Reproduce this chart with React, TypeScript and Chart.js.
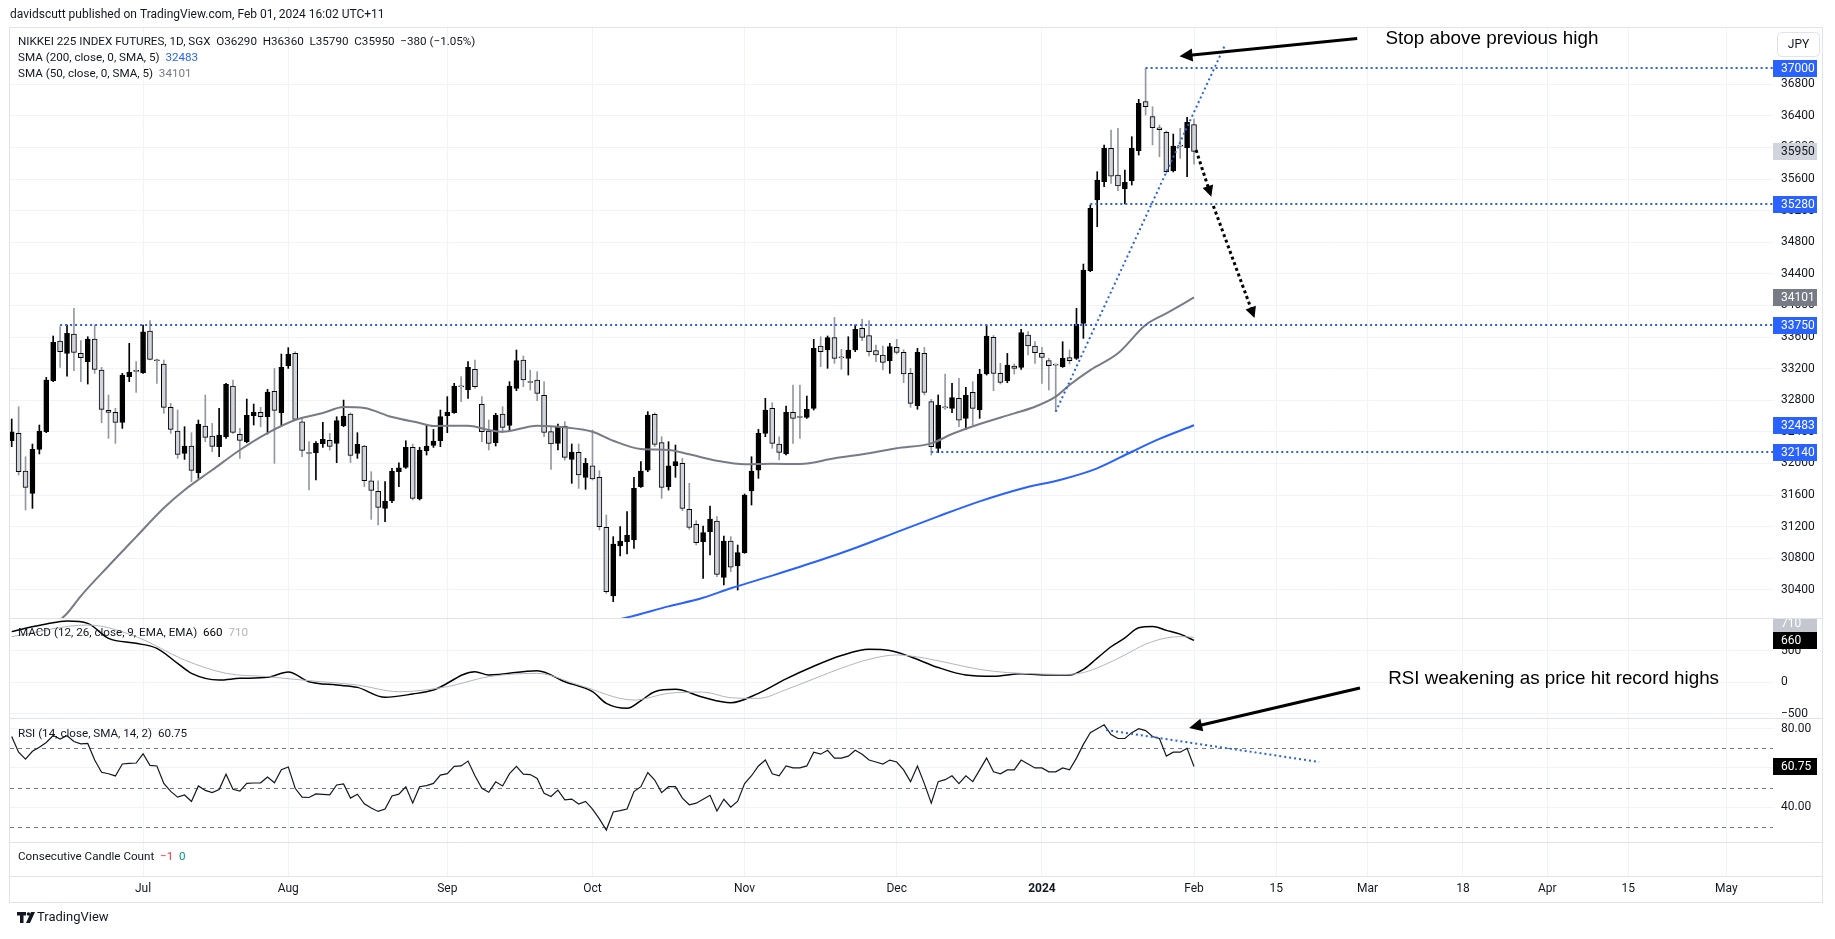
import React, { useEffect, useRef } from "react";
import { Chart, registerables } from "chart.js";
Chart.register(...registerables);

const W = 1835;
const H = 939;
const FONT = "Roboto, 'Liberation Sans', sans-serif";
const ANNO_FONT = "'Liberation Sans', Arial, sans-serif";
const GRID = "#f0f3fa";
const TEXT = "#131722";

// ---------- DATA ----------
const opens = [32288,32380,31904,31621,32178,32401,33047,33549,33393,33638,33393,33288,33575,33182,32672,32646,32520,33098,33170,33148,33676,33305,33258,32710,32410,32127,32220,31882,32473,32347,32212,32338,32980,32368,32275,32604,32646,32591,32912,32642,33237,33393,32528,32130,32136,32250,32292,32254,32477,32625,32127,32220,31781,31646,31431,31528,31895,31950,32203,31549,32161,32229,32288,32604,32642,32975,32929,33191,32748,32410,32263,32626,32482,32950,33309,33030,33056,32862,32402,32254,32474,32052,32140,31824,31971,31824,31191,30321,30955,31009,31030,31705,31916,32621,32263,31705,31971,32001,31418,31229,31009,31136,31271,30558,31018,30701,30870,31651,31916,32381,32697,32246,32119,32646,32585,32583,32697,33486,33436,33592,33341,33330,33436,33710,33617,33427,33372,33301,33469,33406,33140,32731,33393,32782,32191,32708,32697,32824,32571,32900,32676,33132,33596,33140,33047,33233,33216,33626,33486,33393,33301,33248,33225,33339,33330,33773,34440,35335,35567,35989,35651,35474,35579,35959,36580,36390,36250,36191,35706,36020,35997,36290];
const highs = [32562,32718,32085,32245,32486,33089,33613,33731,33752,33963,33554,33604,33752,33216,32866,32697,33140,33520,33288,33752,33807,33320,33309,32760,32676,32465,32389,32549,32866,32507,32697,33013,33056,32444,32815,32752,32710,32937,33203,33385,33465,33414,32583,32275,32275,32520,32380,32591,32802,32640,32389,32230,31895,31781,31769,31937,32009,32287,32245,32203,32486,32431,32676,32845,33014,33098,33288,33309,32845,32550,32634,32718,33035,33436,33360,33182,33161,33035,32465,32499,32528,32246,32246,32064,32423,31908,31347,31073,31199,31389,31824,32022,32655,32640,32338,32275,32233,32064,31748,31275,31208,31461,31326,31081,31073,30967,31613,32085,32431,32824,32769,32338,32727,32993,32993,32853,33571,33604,33613,33849,33444,33604,33752,33824,33807,33499,33486,33520,33571,33440,33204,33457,33469,32811,32866,33132,33014,33077,32963,33035,33191,33752,33620,33267,33393,33260,33697,33668,33541,33469,33330,33260,33541,33436,33963,34524,35271,35693,36031,36221,36242,35714,36136,36609,37000,36516,36284,36210,36170,36242,36381,36360];
const lows = [32212,31853,31410,31431,32119,32389,33035,33216,33106,33174,33035,33005,33140,32515,32317,32254,32444,33035,32900,33140,33309,33013,32634,32380,32064,32051,31769,31811,32275,32148,32085,32317,32380,32064,32262,32486,32465,32372,32001,32465,33203,32549,32085,31663,31790,32203,32169,32009,32465,32009,32064,31705,31292,31220,31262,31503,31705,31937,31537,31537,32106,32203,32212,32389,32634,32782,32824,32950,32275,32170,32220,32389,32414,32921,32971,32929,32794,32338,31925,32170,32043,31748,31684,31672,31790,31157,30355,30250,30828,30853,30925,31697,31895,32212,31558,31663,31824,31402,31165,30967,30545,30841,30566,30461,30630,30397,30862,31473,31811,32338,32191,32043,32106,32254,32317,32570,32676,33225,33204,33267,33191,33119,33415,33554,33360,33288,33183,33140,33385,33022,32710,32685,32866,32106,32136,32685,32642,32465,32431,32486,32571,33119,32921,33005,33022,33132,33191,33372,33267,33014,32929,32655,33216,33259,33317,33583,34427,34997,35503,35546,35453,35284,35524,35904,36411,36031,35883,35672,35690,35862,35630,35790];
const closes = [32401,31895,31697,32178,32410,33056,33532,33414,33646,33406,33338,33575,33191,32684,32646,32520,33119,33153,33165,33667,33317,33300,32710,32431,32115,32220,31912,32494,32330,32216,32359,33001,32393,32292,32608,32646,32591,32904,32672,33216,33381,32558,32165,32125,32254,32304,32216,32541,32600,32102,32241,31781,31659,31443,31524,31904,31945,32203,31558,32170,32220,32284,32592,32646,32980,32970,33216,32971,32402,32254,32609,32457,32980,33301,33056,33024,32887,32393,32246,32465,32077,32144,31853,32001,31803,31199,30376,30980,31018,31094,31684,31904,32613,32242,31697,31971,32022,31431,31191,30997,31123,31296,30596,31018,30685,30870,31600,31904,32381,32676,32254,32140,32646,32570,32581,32685,33457,33415,33592,33330,33337,33436,33697,33596,33415,33372,33279,33478,33406,33132,32760,33406,32900,32212,32739,32704,32832,32549,32866,32697,33132,33613,33140,33026,33246,33204,33655,33486,33402,33343,33237,33244,33330,33301,33760,34449,35229,35588,35989,35638,35512,35558,35989,36558,36516,36250,36225,35693,36018,36016,36318,35950];

// SMA values read at bar positions [bar, value]
const sma50 = [[5,29880],[8,30100],[10,30321],[14,30701],[18,31070],[22,31435],[25,31663],[29,31916],[33,32170],[37,32385],[41,32550],[45,32638],[48,32714],[51,32701],[55,32587],[59,32512],[61,32474],[66,32477],[69,32423],[71,32401],[76,32477],[80,32457],[84,32401],[87,32287],[91,32182],[95,32170],[98,32115],[102,32034],[106,31989],[110,31995],[114,31992],[119,32064],[124,32128],[128,32191],[133,32254],[136,32372],[140,32499],[145,32634],[148,32718],[151,32845],[153,32993],[156,33182],[160,33394],[164,33752],[167,33900],[171,34101]];
const sma200 = [[87,30010],[89,30050],[95,30190],[100,30300],[104,30419],[110,30580],[117,30777],[122,30930],[128,31130],[134,31330],[140,31520],[146,31680],[152,31800],[157,31938],[162,32148],[166,32310],[171,32483]];

const macdLine = [[0,800],[2,852],[5,920],[8,968],[11,931],[14,693],[18,614],[21,534],[24,296],[26,138],[30,32],[33,58],[37,74],[40,159],[43,5],[47,-48],[50,-85],[54,-243],[58,-190],[61,-127],[67,164],[69,111],[76,180],[80,5],[84,-154],[86,-339],[89,-418],[91,-296],[93,-154],[96,-116],[100,-243],[104,-330],[108,-180],[112,50],[116,250],[120,420],[124,520],[127,500],[130,400],[134,230],[138,110],[142,90],[146,130],[150,110],[153,110],[155,200],[157,380],[159,560],[161,700],[163,860],[165,880],[167,820],[169,760],[171,660]];
const signalLine = [[0,720],[11,905],[18,720],[25,349],[31,138],[37,85],[43,21],[50,-48],[56,-154],[63,-74],[69,85],[76,138],[82,-48],[90,-286],[95,-180],[100,-160],[104,-250],[108,-260],[112,-120],[116,50],[120,220],[124,360],[128,430],[132,380],[136,290],[140,200],[144,150],[148,130],[152,120],[155,150],[158,270],[161,430],[164,600],[167,700],[169,720],[171,710]];

const rsi = [76,68,64.5,68.5,70.5,73,76.5,74.7,76.4,73.5,72.3,72.5,64,57.8,57,55.9,62,62.3,62.5,67.2,61.3,61,52.1,48,45.1,46.2,42.9,50.8,48.5,47.4,49,56.8,49.1,48.2,52.1,52.3,52.4,55.4,52.4,59.1,60.5,49.6,45.1,44.9,46.7,46.5,46.2,51.3,51.8,44.6,46.6,41.7,39.5,37.8,39,45.7,46.6,50.4,42.1,50.4,51,52.1,56.3,57.1,60.8,61,63.5,56,49.6,47.6,52.9,50.8,57.1,60.8,56.8,56.6,54.6,47.1,45.4,48.7,43.7,44.1,41.6,42.9,39,34,28.3,37.5,38.2,39,47.9,50.4,57.6,53.8,47.4,50.4,50.4,44.6,41.2,42,44,46,38,44,40,43,52,56,61,64,57,56,61,60,60,61,68,67,69,65,65,66,69,67,64,63,62,64,63,59,53,61,52,42,53,54,56,52,56,53,59,65,58,57,59,59,64,62,60,60,58,58,60,59,65,72,78,80,82,77,75,75,78,80,79,76,75,66,68,68,70,60.75];

const priceTicks = [30400,30800,31200,31600,32000,32400,32800,33200,33600,34000,34400,34800,35200,35600,36000,36400,36800];
const macdTicks = [-500, 0, 500];
const rsiTicks = [40, 60, 80];
const rsiBands = [70, 50, 30];
const gridBars = [19,40,63,84,106,128,149,171,182.9,196.1,209.9,222.1,233.8,248];
const timeLabels = ["Jul","Aug","Sep","Oct","Nov","Dec","2024","Feb","15","Mar","18","Apr","15","May"];
const levelPrices = [37000, 35280, 33750, 32140];
const levelStartBars = [164, 156, 7, 133];

// annotation anchors in data units [bar, value]
const trendLine = [[151, 32655], [175.5, 37300]];
const downArrow1 = [[171.3, 35968], [173.5, 35376]];
const downArrow2 = [[173.8, 35259], [179.75, 33841]];
const stopArrow = [[194.6, 37378], [168.9, 37155]];
const stopText = [198.7, 37378];
const rsiTrend = [[158.3, 79.3], [189.1, 63.0]];
const rsiArrowFrom = [195, -95]; // MACD pane units
const rsiArrowTo = [170.3, 80.4]; // RSI pane units
const rsiText = [199.1, 48]; // MACD pane units

const X_MIN = -0.246;
const X_MAX = 254.74;
const PANE = {
  price: { top: 27, h: 591, min: 30043, max: 37525 },
  macd: { top: 618, h: 100, min: -571, max: 1016 },
  rsi: { top: 718, h: 124, min: 22.2, max: 85.46 },
  bottom: { top: 842, h: 60, axis: 26 },
};

// ---------- helpers ----------
function fitSize(ctx: CanvasRenderingContext2D, text: string, width: number, family: string, weight = "normal") {
  ctx.font = `${weight} 100px ${family}`;
  const w = ctx.measureText(text).width;
  return (100 * width) / w;
}

function drawArrow(ctx: CanvasRenderingContext2D, x1: number, y1: number, x2: number, y2: number, width: number, dash: number[], head: number, color = "#000") {
  ctx.save();
  const ang = Math.atan2(y2 - y1, x2 - x1);
  ctx.strokeStyle = color;
  ctx.lineWidth = width;
  ctx.setLineDash(dash);
  ctx.beginPath();
  ctx.moveTo(x1, y1);
  ctx.lineTo(x2 - Math.cos(ang) * head * 0.8, y2 - Math.sin(ang) * head * 0.8);
  ctx.stroke();
  ctx.setLineDash([]);
  ctx.fillStyle = color;
  const bx = x2 - head * Math.cos(ang);
  const by = y2 - head * Math.sin(ang);
  const hw = head * 0.5;
  ctx.beginPath();
  ctx.moveTo(x2, y2);
  ctx.lineTo(bx + hw * Math.sin(ang), by - hw * Math.cos(ang));
  ctx.lineTo(bx - hw * Math.sin(ang), by + hw * Math.cos(ang));
  ctx.closePath();
  ctx.fill();
  ctx.restore();
}

function drawBadge(ctx: CanvasRenderingContext2D, y: number, text: string, bg: string, fg: string) {
  ctx.save();
  ctx.fillStyle = bg;
  ctx.fillRect(1773, Math.round(y - 8.5), 44, 17);
  ctx.fillStyle = fg;
  ctx.font = `12px ${FONT}`;
  ctx.textBaseline = "middle";
  ctx.textAlign = "left";
  ctx.fillText(text, 1781, y + 0.5);
  ctx.restore();
}

function xScale(showLabels: boolean, axisH: number) {
  return {
    type: "linear",
    min: X_MIN,
    max: X_MAX,
    offset: false,
    position: "bottom",
    afterBuildTicks: (s: any) => {
      s.ticks = gridBars.map((v) => ({ value: v }));
    },
    afterFit: (s: any) => {
      s.height = axisH;
      s.paddingLeft = 0;
      s.paddingRight = 0;
      s.paddingTop = 0;
      s.paddingBottom = 0;
    },
    ticks: {
      display: showLabels,
      autoSkip: false,
      maxRotation: 0,
      padding: 6,
      color: TEXT,
      font: (c: any) => ({ family: FONT, size: 12, weight: timeLabels[c.index] === "2024" ? "bold" : "normal" }),
      callback: (_v: any, i: number) => timeLabels[i],
    },
    grid: { color: GRID, drawTicks: false, lineWidth: 1, offset: false },
    border: { display: showLabels, color: "#e0e3eb" },
  };
}

function yScale(min: number, max: number, ticks: number[], fmt: (v: number) => string, showGrid = true) {
  return {
    type: "linear",
    position: "right",
    min,
    max,
    afterBuildTicks: (s: any) => {
      s.ticks = ticks.map((v) => ({ value: v }));
    },
    afterFit: (s: any) => {
      s.width = 50;
      s.paddingTop = 0;
      s.paddingBottom = 0;
      s.paddingLeft = 0;
      s.paddingRight = 0;
    },
    ticks: { padding: 8, color: TEXT, font: { family: FONT, size: 12 }, callback: (v: any) => fmt(Number(v)) },
    grid: { color: GRID, drawTicks: false, display: showGrid },
    border: { display: false },
  };
}

function baseOpts(x: any, y: any) {
  return {
    responsive: false,
    animation: false,
    devicePixelRatio: 1,
    layout: { padding: { left: 10, right: 12, top: 0, bottom: 0 }, autoPadding: false },
    scales: { x, y },
    plugins: { legend: { display: false }, tooltip: { enabled: false }, title: { display: false } },
    events: [],
  };
}

export default function App() {
  const priceRef = useRef<HTMLCanvasElement>(null);
  const macdRef = useRef<HTMLCanvasElement>(null);
  const rsiRef = useRef<HTMLCanvasElement>(null);
  const botRef = useRef<HTMLCanvasElement>(null);
  const ovRef = useRef<HTMLCanvasElement>(null);

  useEffect(() => {
    const charts: Chart[] = [];
    const idx = opens.map((_, i) => i);
    const up = idx.map((i) => closes[i] >= opens[i]);

    // ---- price pane ----
    const pricePlugin = {
      id: "priceAnno",
      afterDatasetsDraw(chart: any) {
        const { ctx, chartArea } = chart;
        const xs = chart.scales.x;
        const ys = chart.scales.y;
        const px = (b: number) => xs.getPixelForValue(b);
        const py = (v: number) => ys.getPixelForValue(v);
        ctx.save();
        ctx.strokeStyle = "#2a62d8";
        ctx.lineWidth = 2;
        ctx.setLineDash([2, 3]);
        levelPrices.forEach((p, k) => {
          const y = Math.round(py(p));
          ctx.beginPath();
          ctx.moveTo(px(levelStartBars[k]), y);
          ctx.lineTo(chartArea.right, y);
          ctx.stroke();
        });
        ctx.beginPath();
        ctx.moveTo(px(trendLine[0][0]), py(trendLine[0][1]));
        ctx.lineTo(px(trendLine[1][0]), py(trendLine[1][1]));
        ctx.stroke();
        ctx.restore();
        [downArrow1, downArrow2].forEach((a) => {
          drawArrow(ctx, px(a[0][0]), py(a[0][1]), px(a[1][0]), py(a[1][1]), 3, [3, 3], 11);
        });
        drawArrow(ctx, px(stopArrow[0][0]), py(stopArrow[0][1]), px(stopArrow[1][0]), py(stopArrow[1][1]), 3, [], 13);
        const t = "Stop above previous high";
        const fs = fitSize(ctx, t, 213, ANNO_FONT);
        ctx.save();
        ctx.font = `${fs}px ${ANNO_FONT}`;
        ctx.fillStyle = "#000";
        ctx.textBaseline = "middle";
        ctx.fillText(t, px(stopText[0]), py(stopText[1]));
        ctx.restore();
      },
      afterDraw(chart: any) {
        const { ctx } = chart;
        const ys = chart.scales.y;
        const badges = [
          [37000, "#2962ff", "#fff"],
          [closes[closes.length - 1], "#d1d4dc", TEXT],
          [35280, "#2962ff", "#fff"],
          [sma50[sma50.length - 1][1], "#787b86", "#fff"],
          [33750, "#2962ff", "#fff"],
          [sma200[sma200.length - 1][1], "#2962ff", "#fff"],
          [32140, "#2962ff", "#fff"],
        ];
        badges.forEach(([v, bg, fg]: any) => drawBadge(ctx, ys.getPixelForValue(v), String(v), bg, fg));
        ctx.save();
        ctx.strokeStyle = "#e0e3eb";
        ctx.fillStyle = "#fff";
        ctx.lineWidth = 1;
        ctx.beginPath();
        (ctx as any).roundRect(1777.5, 5.5, 42, 24, 4);
        ctx.fill();
        ctx.stroke();
        ctx.fillStyle = TEXT;
        ctx.font = `12px ${FONT}`;
        ctx.textAlign = "center";
        ctx.textBaseline = "middle";
        ctx.fillText("JPY", 1798.5, 18);
        ctx.restore();
      },
    };

    charts.push(
      new Chart(priceRef.current!, {
        type: "bar",
        data: {
          datasets: [
            { type: "line", data: sma200.map(([x, y]) => ({ x, y })), borderColor: "#2962ff", borderWidth: 2, pointRadius: 0, cubicInterpolationMode: "monotone", clip: 0, order: 0 },
            { type: "line", data: sma50.map(([x, y]) => ({ x, y })), borderColor: "#787b86", borderWidth: 2, pointRadius: 0, cubicInterpolationMode: "monotone", clip: 0, order: 0 },
            {
              type: "bar",
              data: idx.map((i) => ({ x: i, y: [Math.min(opens[i], closes[i]), Math.max(opens[i], closes[i])] })),
              backgroundColor: idx.map((i) => (up[i] ? "#000000" : "#d1d4dc")),
              borderColor: "#000000",
              borderWidth: 1,
              borderSkipped: false,
              barThickness: 5,
              minBarLength: 1,
              grouped: false,
              order: 1,
            },
            {
              type: "bar",
              data: idx.map((i) => ({ x: i, y: [lows[i], highs[i]] })),
              backgroundColor: idx.map((i) => (up[i] ? "#000000" : "#9598a1")),
              borderWidth: 0,
              barThickness: 1,
              grouped: false,
              order: 2,
            },
          ],
        } as any,
        options: baseOpts(xScale(false, 0), yScale(PANE.price.min, PANE.price.max, priceTicks, (v) => String(v))) as any,
        plugins: [pricePlugin],
      })
    );

    // ---- MACD pane ----
    const macdPlugin = {
      id: "macdAnno",
      afterDraw(chart: any) {
        const ys = chart.scales.y;
        const lastM = macdLine[macdLine.length - 1][1];
        const lastS = signalLine[signalLine.length - 1][1];
        const yM = ys.getPixelForValue(lastM);
        let yS = ys.getPixelForValue(lastS);
        if (Math.abs(yS - yM) < 17) yS = yM - 17;
        drawBadge(chart.ctx, yS, String(lastS), "#c4c7cf", "#fff");
        drawBadge(chart.ctx, yM, String(lastM), "#000", "#fff");
      },
    };
    const macdChart = new Chart(macdRef.current!, {
      type: "line",
      data: {
        datasets: [
          { data: signalLine.map(([x, y]) => ({ x, y })), borderColor: "#b2b5be", borderWidth: 1, pointRadius: 0, cubicInterpolationMode: "monotone" },
          { data: macdLine.map(([x, y]) => ({ x, y })), borderColor: "#000", borderWidth: 1.5, pointRadius: 0, cubicInterpolationMode: "monotone" },
        ],
      } as any,
      options: baseOpts(xScale(false, 0), yScale(PANE.macd.min, PANE.macd.max, macdTicks, (v) => (v < 0 ? "\u2212" + Math.abs(v) : String(v)))) as any,
      plugins: [macdPlugin],
    });
    charts.push(macdChart);

    // ---- RSI pane ----
    const rsiPlugin = {
      id: "rsiAnno",
      beforeDatasetsDraw(chart: any) {
        const { ctx, chartArea } = chart;
        const ys = chart.scales.y;
        ctx.save();
        ctx.strokeStyle = "#787b86";
        ctx.lineWidth = 1;
        ctx.setLineDash([4, 4]);
        rsiBands.forEach((b) => {
          const y = Math.round(ys.getPixelForValue(b)) + 0.5;
          ctx.beginPath();
          ctx.moveTo(chartArea.left, y);
          ctx.lineTo(chartArea.right, y);
          ctx.stroke();
        });
        ctx.restore();
      },
      afterDatasetsDraw(chart: any) {
        const { ctx } = chart;
        const xs = chart.scales.x;
        const ys = chart.scales.y;
        ctx.save();
        ctx.strokeStyle = "#2a62d8";
        ctx.lineWidth = 2;
        ctx.setLineDash([2, 3]);
        ctx.beginPath();
        ctx.moveTo(xs.getPixelForValue(rsiTrend[0][0]), ys.getPixelForValue(rsiTrend[0][1]));
        ctx.lineTo(xs.getPixelForValue(rsiTrend[1][0]), ys.getPixelForValue(rsiTrend[1][1]));
        ctx.stroke();
        ctx.restore();
      },
      afterDraw(chart: any) {
        const last = rsi[rsi.length - 1];
        drawBadge(chart.ctx, chart.scales.y.getPixelForValue(last), last.toFixed(2), "#000", "#fff");
      },
    };
    const rsiChart = new Chart(rsiRef.current!, {
      type: "line",
      data: { datasets: [{ data: rsi.map((y, x) => ({ x, y })), borderColor: "#131722", borderWidth: 1.2, pointRadius: 0 }] } as any,
      options: baseOpts(xScale(false, 0), yScale(PANE.rsi.min, PANE.rsi.max, rsiTicks, (v) => v.toFixed(2))) as any,
      plugins: [rsiPlugin],
    });
    charts.push(rsiChart);

    // ---- bottom pane (count + time axis) ----
    charts.push(
      new Chart(botRef.current!, {
        type: "line",
        data: { datasets: [{ data: [] }] } as any,
        options: baseOpts(xScale(true, PANE.bottom.axis), yScale(0, 1, [], () => "", false)) as any,
      })
    );

    // ---- overlay ----
    const ov = ovRef.current!;
    const ctx = ov.getContext("2d")!;
    ctx.clearRect(0, 0, W, H);
    ctx.strokeStyle = "#e0e3eb";
    ctx.lineWidth = 1;
    ctx.strokeRect(9.5, 27.5, 1813, 875);
    [618, 718, 842, 876].forEach((y) => {
      ctx.beginPath();
      ctx.moveTo(9, y + 0.5);
      ctx.lineTo(1823, y + 0.5);
      ctx.stroke();
    });

    const head = "davidscutt published on TradingView.com, Feb 01, 2024 16:02 UTC+11";
    const hs = fitSize(ctx, head, 375, FONT);
    ctx.font = `${hs}px ${FONT}`;
    ctx.fillStyle = TEXT;
    ctx.textBaseline = "middle";
    ctx.fillText(head, 10, 15);

    const l1 = "NIKKEI 225 INDEX FUTURES, 1D, SGX  O36290  H36360  L35790  C35950  \u2212380 (\u22121.05%)";
    const ls = fitSize(ctx, l1, 458, FONT);
    const segs = (x: number, y: number, parts: [string, string][]) => {
      ctx.font = `${ls}px ${FONT}`;
      let cx = x;
      parts.forEach(([t, c]) => {
        ctx.fillStyle = c;
        ctx.fillText(t, cx, y);
        cx += ctx.measureText(t).width;
      });
    };
    segs(18, 42, [[l1, TEXT]]);
    segs(18, 58, [["SMA (200, close, 0, SMA, 5)  ", TEXT], [String(sma200[sma200.length - 1][1]), "#2962ff"]]);
    segs(18, 74, [["SMA (50, close, 0, SMA, 5)  ", TEXT], [String(sma50[sma50.length - 1][1]), "#787b86"]]);
    segs(18, 633, [["MACD (12, 26, close, 9, EMA, EMA)  ", TEXT], [String(macdLine[macdLine.length - 1][1]), "#000"], ["  " + String(signalLine[signalLine.length - 1][1]), "#b2b5be"]]);
    segs(18, 734, [["RSI (14, close, SMA, 14, 2)  ", TEXT], [rsi[rsi.length - 1].toFixed(2), TEXT]]);
    segs(18, 857, [["Consecutive Candle Count  ", TEXT], ["\u22121", "#f23645"], ["  0", "#089981"]]);

    const mx = macdChart.scales.x;
    const my = macdChart.scales.y;
    const rx = rsiChart.scales.x;
    const ry = rsiChart.scales.y;
    drawArrow(
      ctx,
      mx.getPixelForValue(rsiArrowFrom[0]),
      my.getPixelForValue(rsiArrowFrom[1]) + PANE.macd.top,
      rx.getPixelForValue(rsiArrowTo[0]),
      ry.getPixelForValue(rsiArrowTo[1]) + PANE.rsi.top,
      3,
      [],
      13
    );
    const rt = "RSI weakening as price hit record highs";
    const rts = fitSize(ctx, rt, 331, ANNO_FONT);
    ctx.font = `${rts}px ${ANNO_FONT}`;
    ctx.fillStyle = "#000";
    ctx.fillText(rt, mx.getPixelForValue(rsiText[0]), my.getPixelForValue(rsiText[1]) + PANE.macd.top);

    // TradingView logo
    ctx.fillStyle = "#131722";
    ctx.fillRect(17, 912, 9, 3.5);
    ctx.fillRect(20, 912, 3.5, 11);
    ctx.beginPath();
    ctx.arc(28.5, 914, 1.8, 0, Math.PI * 2);
    ctx.fill();
    ctx.beginPath();
    ctx.moveTo(31, 912);
    ctx.lineTo(35, 912);
    ctx.lineTo(30, 923);
    ctx.lineTo(26, 923);
    ctx.closePath();
    ctx.fill();
    ctx.font = `13px ${FONT}`;
    ctx.fillStyle = "#131722";
    ctx.fillText("TradingView", 37, 918);

    return () => charts.forEach((c) => c.destroy());
  }, []);

  const cs = (top: number, h: number): React.CSSProperties => ({ position: "absolute", left: 0, top, width: W, height: h });
  return (
    <div style={{ position: "fixed", left: 0, top: 0, width: W, height: H, background: "#fff", overflow: "hidden" }}>
      <canvas ref={priceRef} width={W} height={PANE.price.h} style={cs(PANE.price.top, PANE.price.h)} />
      <canvas ref={macdRef} width={W} height={PANE.macd.h} style={cs(PANE.macd.top, PANE.macd.h)} />
      <canvas ref={rsiRef} width={W} height={PANE.rsi.h} style={cs(PANE.rsi.top, PANE.rsi.h)} />
      <canvas ref={botRef} width={W} height={PANE.bottom.h} style={cs(PANE.bottom.top, PANE.bottom.h)} />
      <canvas ref={ovRef} width={W} height={H} style={{ ...cs(0, H), pointerEvents: "none" }} />
    </div>
  );
}
